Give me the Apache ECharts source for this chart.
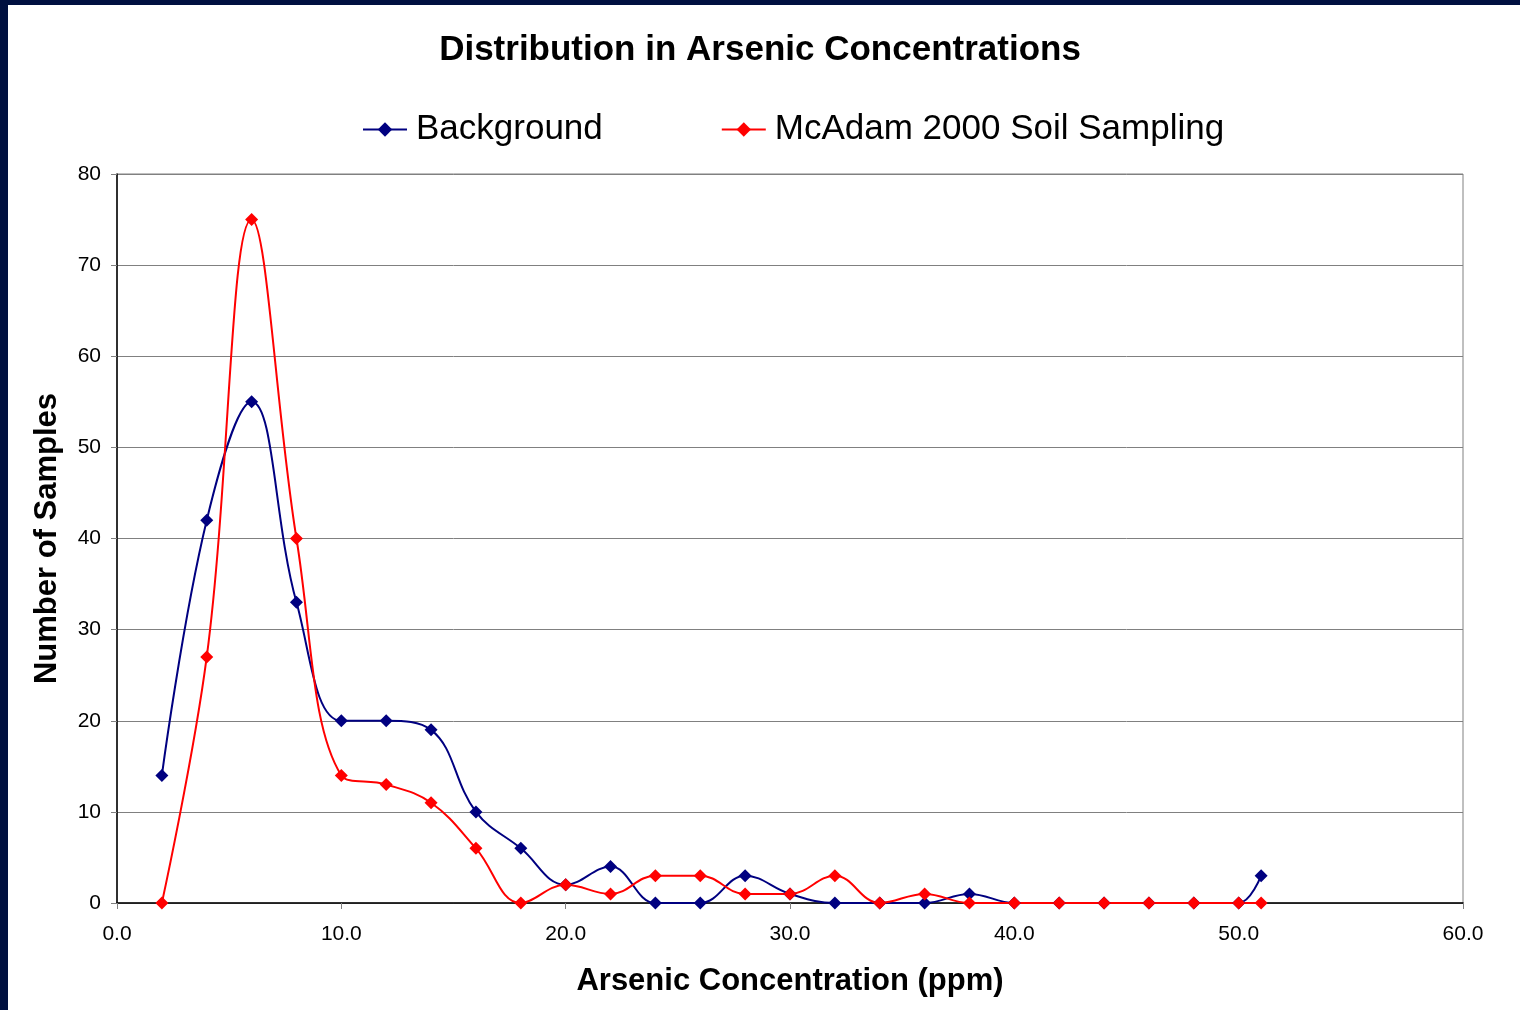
<!DOCTYPE html>
<html>
<head>
<meta charset="utf-8">
<script src="https://cdn.jsdelivr.net/npm/echarts@6/dist/echarts.min.js"></script>
<style>
html,body{margin:0;padding:0;background:#fff;}
#c{position:absolute;left:0;top:0;width:1520px;height:1010px;}
</style>
</head>
<body>
<div id="c"></div>
<script>
var concentrations = [2,4,6,8,10,12,14,16,18,20,22,24,26,28,30,32,34,36,38,40,42,44,46,48,50,51];
var background = [14,42,55,33,20,20,19,10,6,2,4,0,0,3,1,0,0,0,1,0,0,0,0,0,0,3];
var mcadam = [0,27,75,40,14,13,11,6,0,2,1,3,3,1,1,3,0,1,0,0,0,0,0,0,0,0];
var seriesNames = ['Background','McAdam 2000 Soil Sampling'];
var titleText = 'Distribution in Arsenic Concentrations';
var xName = 'Arsenic Concentration (ppm)';
var yName = 'Number of Samples';

function pairs(xs, ys){ return xs.map(function(x,i){ return [x, ys[i]]; }); }

var font = 'Liberation Sans, Arial, sans-serif';
var diamond = 'path://M0,-1L1,0L0,1L-1,0Z';
var chart = echarts.init(document.getElementById('c'));
chart.setOption({
  backgroundColor:'#ffffff',
  animation:false,
  graphic:[
    {type:'rect', left:0, top:0, shape:{width:1520,height:5}, style:{fill:'#001040'}},
    {type:'rect', left:0, top:0, shape:{width:8,height:1010}, style:{fill:'#001040'}}
  ],
  title:{text:titleText, left:'center', top:28,
    textStyle:{fontFamily:font, fontSize:35, fontWeight:'bold', color:'#000'}},
  legend:{top:107, left:357, itemWidth:44, itemHeight:18, itemGap:118,
    textStyle:{fontFamily:font, fontSize:35, color:'#000', padding:[0,0,0,4]},
    data:seriesNames},
  grid:{left:117, right:57, top:174, bottom:107, show:true, borderColor:'#808080', borderWidth:1, containLabel:false},
  xAxis:{type:'value', min:0, max:60, interval:10,
    name:xName, nameLocation:'middle', nameGap:63,
    nameTextStyle:{fontFamily:font, fontSize:31, fontWeight:'bold', color:'#000'},
    axisLine:{lineStyle:{color:'#000', width:1.5}},
    axisTick:{show:true, inside:false, length:6, lineStyle:{color:'#808080'}},
    axisLabel:{fontFamily:font, fontSize:21, color:'#000', margin:21,
      formatter:function(v){ return v.toFixed(1); }},
    splitLine:{show:false}},
  yAxis:{type:'value', min:0, max:80, interval:10,
    name:yName, nameLocation:'middle', nameGap:54,
    nameTextStyle:{fontFamily:font, fontSize:31, fontWeight:'bold', color:'#000'},
    axisLine:{show:true, lineStyle:{color:'#000', width:1.5}},
    axisTick:{show:true, inside:false, length:6, lineStyle:{color:'#808080'}},
    axisLabel:{fontFamily:font, fontSize:21, color:'#000', margin:16},
    splitLine:{show:true, lineStyle:{color:'#808080', width:1}}},
  series:[
    {name:seriesNames[0], type:'line', data:pairs(concentrations, background),
      smooth:0.4, symbol:diamond, symbolSize:13,
      lineStyle:{color:'#000080', width:2}, itemStyle:{color:'#000080'}},
    {name:seriesNames[1], type:'line', data:pairs(concentrations, mcadam),
      smooth:0.4, symbol:diamond, symbolSize:13,
      lineStyle:{color:'#ff0000', width:2}, itemStyle:{color:'#ff0000'}}
  ]
});
</script>
</body>
</html>
